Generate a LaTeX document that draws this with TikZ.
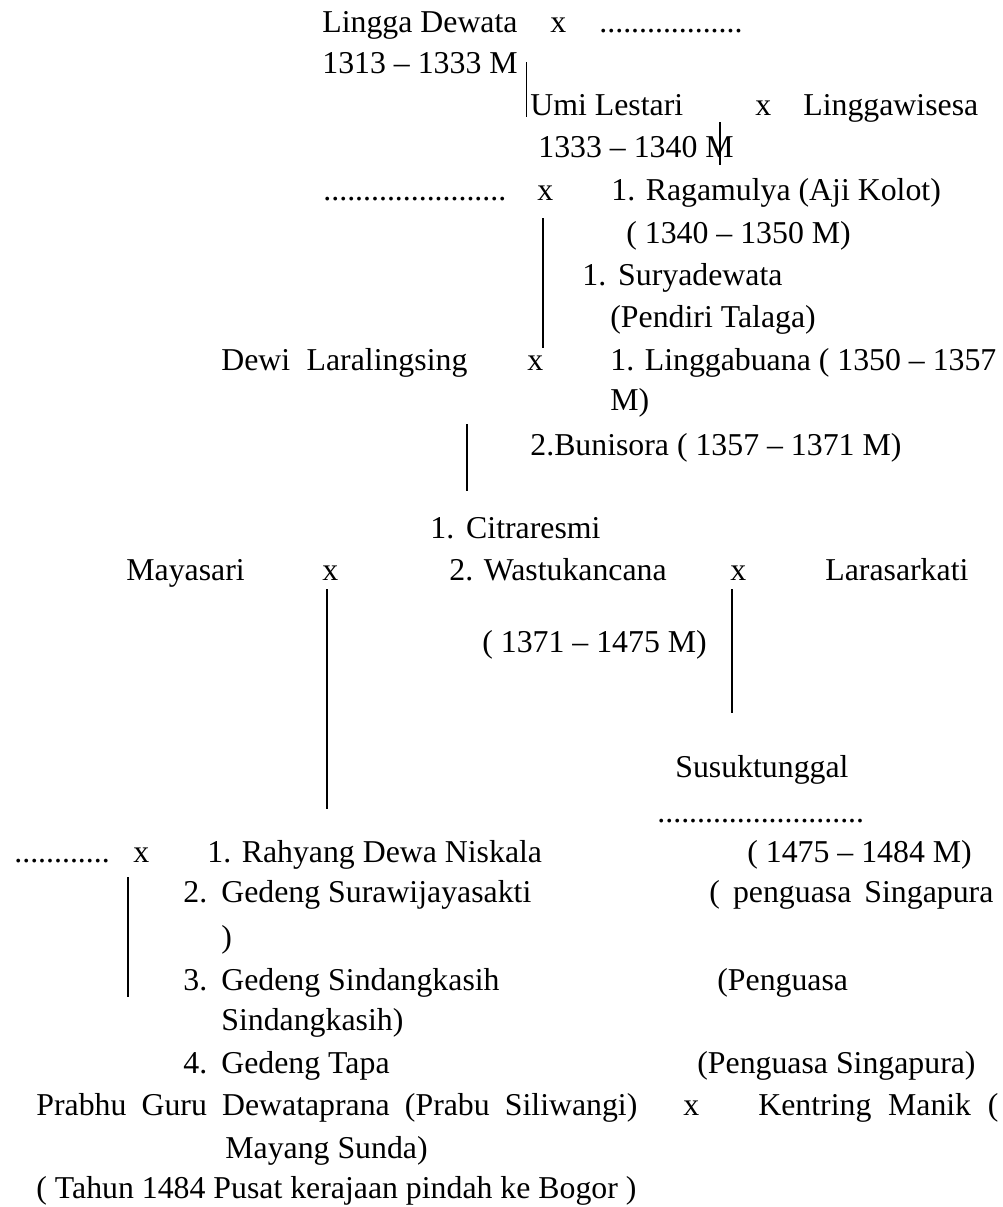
\documentclass[tikz,border=0pt]{standalone}
\usepackage{fontspec}
\setmainfont{Liberation Serif}
\usepackage{tikz}

\begin{document}
\begin{tikzpicture}[x=0.5pt, y=-0.5pt]
  \tikzstyle{txt} = [anchor=base west, inner sep=0pt, font=\fontsize{15.9pt}{19pt}\selectfont]
  \tikzstyle{line} = [line width=0.75pt, line cap=butt]
  \useasboundingbox (0,0) rectangle (1003,1207);

  % Lingga Dewata
  \node (ld) [txt] at (322,32) {Lingga Dewata};
  \node (xld) [txt] at (550,32) {x};
  \node (dld) [txt] at (599,32) {..................};
  \node (ldy) [txt] at (322,73) {1313 -- 1333 M};

  % Umi Lestari
  \node (ul) [txt] at (530,115) {Umi Lestari};
  \node (xul) [txt] at (755,115) {x};
  \node (lw) [txt] at (803,115) {Linggawisesa};
  \node (uly) [txt] at (538,157) {1333 -- 1340 M};

  % Ragamulya
  \node (drg) [txt] at (323,200) {.......................};
  \node (xrg) [txt] at (537,200) {x};
  \node (rg) [txt] at (611,200) {1. Ragamulya (Aji Kolot)};
  \node (rgy) [txt] at (626,243) {( 1340 -- 1350 M)};
  \node (sd) [txt] at (582,285) {1.\hspace{6pt}Suryadewata};
  \node (sdk) [txt] at (610,327) {(Pendiri Talaga)};

  % Linggabuana
  \node (dl) [txt] at (221,370) {\makebox[123pt][s]{Dewi Laralingsing}};
  \node (xdl) [txt] at (527,370) {x};
  \node (lb) [txt] at (610,370) {1. Linggabuana ( 1350 -- 1357};
  \node (lbm) [txt] at (610,410) {M)};
  \node (bs) [txt] at (530,455) {2.Bunisora ( 1357 -- 1371 M)};

  % Wastukancana
  \node (cr) [txt] at (430,538) {1.\hspace{6pt}Citraresmi};
  \node (ms) [txt] at (126,580) {Mayasari};
  \node (xms) [txt] at (322,580) {x};
  \node (wk) [txt] at (449,580) {2. Wastukancana};
  \node (xwk) [txt] at (730,580) {x};
  \node (lk) [txt] at (825,580) {Larasarkati};
  \node (wky) [txt] at (482,652) {( 1371 -- 1475 M)};

  % Susuktunggal
  \node (st) [txt] at (675,777) {Susuktunggal};
  \node (dst) [txt] at (657,822) {..........................};
  \node (sty) [txt] at (747,862) {( 1475 -- 1484 M)};

  % Dewa Niskala
  \node (ddn) [txt] at (14,862) {............};
  \node (xdn) [txt] at (133,862) {x};
  \node (dn) [txt] at (207,862) {1. Rahyang Dewa Niskala};
  \node (n2) [txt] at (183,902) {2.};
  \node (g2) [txt] at (221,902) {Gedeng Surawijayasakti};
  \node (p2) [txt] at (709,902) {\makebox[142pt][s]{( penguasa Singapura}};
  \node (g2b) [txt] at (221,947) {)};
  \node (n3) [txt] at (183,990) {3.};
  \node (g3) [txt] at (221,990) {Gedeng Sindangkasih};
  \node (p3) [txt] at (717,990) {(Penguasa};
  \node (g3b) [txt] at (221,1030) {Sindangkasih)};
  \node (n4) [txt] at (183,1073) {4.};
  \node (g4) [txt] at (221,1073) {Gedeng Tapa};
  \node (p4) [txt] at (697,1073) {(Penguasa Singapura)};

  % Prabu Siliwangi
  \node (ps) [txt] at (36,1115) {\makebox[300.5pt][s]{Prabhu Guru Dewataprana (Prabu Siliwangi)}};
  \node (xps) [txt] at (683,1115) {x};
  \node (km) [txt] at (758,1115) {\makebox[120pt][s]{Kentring Manik (}};
  \node (kmb) [txt] at (225,1158) {Mayang Sunda)};
  \node (th) [txt] at (36,1198) {( Tahun 1484 Pusat kerajaan pindah ke Bogor )};

  % garis keturunan
  \coordinate (l1a) at (526.5,62);  \coordinate (l1b) at (526.5,117);
  \coordinate (l2a) at (720,122);   \coordinate (l2b) at (720,165);
  \coordinate (l3a) at (543,218);   \coordinate (l3b) at (543,348);
  \coordinate (l4a) at (467,424);   \coordinate (l4b) at (467,491);
  \coordinate (l5a) at (327,589);   \coordinate (l5b) at (327,809);
  \coordinate (l6a) at (732,589);   \coordinate (l6b) at (732,713);
  \coordinate (l7a) at (128,877);   \coordinate (l7b) at (128,997);
  \draw [line] (l1a) -- (l1b);
  \draw [line] (l2a) -- (l2b);
  \draw [line] (l3a) -- (l3b);
  \draw [line] (l4a) -- (l4b);
  \draw [line] (l5a) -- (l5b);
  \draw [line] (l6a) -- (l6b);
  \draw [line] (l7a) -- (l7b);
\end{tikzpicture}
\end{document}
